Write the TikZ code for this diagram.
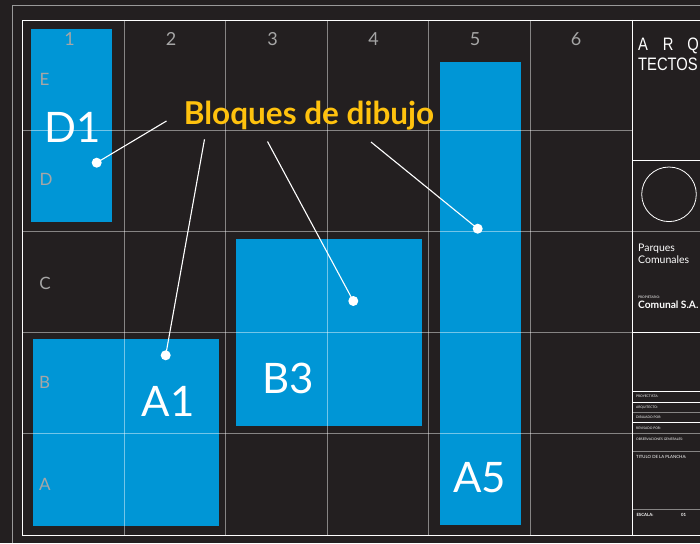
\documentclass[tikz,border=0pt]{standalone}
\usepackage{fontspec}
\usepackage{graphicx}
\setmainfont{Lato}
\newfontfamily\arqfont{Liberation Sans}
\usepackage{tikz}
\usetikzlibrary{positioning, calc}

\definecolor{fondo}{HTML}{231F20}
\definecolor{azul}{HTML}{0096D6}
\definecolor{amarillo}{HTML}{FFC20E}
\definecolor{gris}{HTML}{A6A6A6}

\tikzset{
    bloque/.style={fill=azul},
    rejilla/.style={white, opacity=0.45, line width=0.9pt},
    marco/.style={white, line width=0.9pt},
    guia/.style={white, line width=1.1pt},
    punto/.style={circle, fill=white, inner sep=0pt, minimum size=10pt},
    etiqueta/.style={white, anchor=base, inner sep=0pt, font=\fontsize{42}{42}\selectfont},
    eje/.style={gris, inner sep=0pt, font=\fontsize{17}{17}\selectfont},
    diminuto/.style={white!85, anchor=base west, inner sep=0pt, font=\fontsize{3.3}{3.3}\selectfont}
}

\begin{document}
\begin{tikzpicture}[x=1pt, y=-1pt]
    \useasboundingbox (0,0) rectangle (700,543);
    \clip (0,0) rectangle (700,543);
    \fill[fondo] (0,0) rectangle (700,543);

    % 外枠
    \draw[gray!80, line width=0.9pt] (12.3,543) -- (12.3,5.7) -- (700,5.7);
    \draw[marco] (700,20) -- (22.7,20) -- (22.7,535) -- (700,535);
    \draw[marco] (632,20) -- (632,535);

    % ブロック
    \fill[bloque] (31,29) rectangle (112,221.5);
    \fill[bloque] (33,339) rectangle (219,525.5);
    \fill[bloque] (236,239) rectangle (422,425.5);
    \fill[bloque] (440,62) rectangle (520.5,524.5);

    % グリッド
    \draw[rejilla] (124,20) -- (124,535) (225.7,20) -- (225.7,535)
        (327.3,20) -- (327.3,535) (428.7,20) -- (428.7,535)
        (530.3,20) -- (530.3,535);
    \draw[rejilla] (22.7,130) -- (632,130) (22.7,231) -- (700,231)
        (22.7,332.3) -- (632,332.3) (22.7,433) -- (700,433);

    % 列と行の番号
    \node[eje, font=\fontsize{18}{18}\selectfont] (c1) at (69.5,39.3) {1};
    \node[eje, font=\fontsize{18}{18}\selectfont] (c2) at (171,39.3) {2};
    \node[eje, font=\fontsize{18}{18}\selectfont] (c3) at (272.5,39.3) {3};
    \node[eje, font=\fontsize{18}{18}\selectfont] (c4) at (373.5,39.3) {4};
    \node[eje, font=\fontsize{18}{18}\selectfont] (c5) at (475,39.3) {5};
    \node[eje, font=\fontsize{18}{18}\selectfont] (c6) at (576,39.3) {6};
    \node[eje] (fE) at (44.5,79) {E};
    \node[eje] (fD) at (46,179.5) {D};
    \node[eje] (fC) at (45,283) {C};
    \node[eje] (fB) at (44.5,382) {B};
    \node[eje] (fA) at (45,484) {A};

    % ブロック名
    \node[etiqueta] (nD1) at (72.5,142) {D1};
    \node[etiqueta] (nA1) at (168,416) {A1};
    \node[etiqueta] (nB3) at (288,393.3) {B3};
    \node[etiqueta] (nA5) at (479.5,492.7) {A5};

    % 見出しと引出線
    \node[amarillo, anchor=base, inner sep=0pt, font=\bfseries\fontsize{31.5}{31.5}\selectfont]
        (titulo) at (309,124.3) {Bloques de dibujo};
    \coordinate (gD1) at (166.5,121);
    \coordinate (gA1) at (204.5,139.3);
    \coordinate (gB3) at (267.5,141.5);
    \coordinate (gA5) at (371,142);
    \node[punto] (pD1) at (96.7,162.7) {};
    \node[punto] (pA1) at (165.7,355.3) {};
    \node[punto] (pB3) at (353.3,301) {};
    \node[punto] (pA5) at (477.7,228.7) {};
    \draw[guia] (gD1) -- (pD1.center);
    \draw[guia] (gA1) -- (pA1.center);
    \draw[guia] (gB3) -- (pB3.center);
    \draw[guia] (gA5) -- (pA5.center);

    % 表題欄
    \draw[marco] (632,160) -- (700,160) (632,332.3) -- (700,332.3)
        (632,391) -- (700,391) (632,402.7) -- (700,402.7) (632,422.7) -- (700,422.7);
    \draw[rejilla] (632,412.7) -- (700,412.7) (632,451.7) -- (700,451.7)
        (632,509.3) -- (700,509.3);
    \draw[white, line width=0.8pt] (669,194.3) circle (27.3pt);

    \node[white, anchor=base west, inner sep=0pt] (arq) at (638,50)
        {\arqfont\fontsize{18}{18}\selectfont\scalebox{0.82}[1]{A\hspace{18pt}R\hspace{17pt}Q}};
    \node[white, anchor=base west, inner sep=0pt] (tectos) at (638,70)
        {\arqfont\fontsize{18}{18}\selectfont\scalebox{0.82}[1]{TECTOS}};
    \node[white!90, anchor=base west, inner sep=0pt, font=\fontsize{10.5}{10.5}\selectfont]
        (parques) at (638,251.7) {Parques};
    \node[white!90, anchor=base west, inner sep=0pt, font=\fontsize{10.5}{10.5}\selectfont]
        (comunales) at (638,263) {Comunales};
    \node[diminuto] (propietario) at (638,298.5) {PROPIETARIO:};
    \node[white, anchor=base west, inner sep=0pt, font=\bfseries\fontsize{10.2}{10.2}\selectfont]
        (comunal) at (638,308.3) {Comunal S.A.};

    \node[diminuto] (proyectista) at (636,397) {PROYECTISTA:};
    \node[diminuto] (arquitecto) at (636,408) {ARQUITECTO:};
    \node[diminuto] (dibujado) at (636,418.5) {DIBUJADO POR:};
    \node[diminuto] (revisado) at (636,429) {REVISADO POR:};
    \node[diminuto] (observaciones) at (636,440) {OBSERVACIONES GENERALES:};
    \node[diminuto, font=\fontsize{4.3}{4.3}\selectfont] (plancha) at (636,458.3) {TITULO DE LA PLANCHA:};
    \node[diminuto, white, font=\bfseries\fontsize{4.3}{4.3}\selectfont] (escala) at (636.3,516.3) {ESCALA:};
    \node[diminuto, white, font=\bfseries\fontsize{4.3}{4.3}\selectfont] (lamina) at (681,516.3) {01};
\end{tikzpicture}
\end{document}
